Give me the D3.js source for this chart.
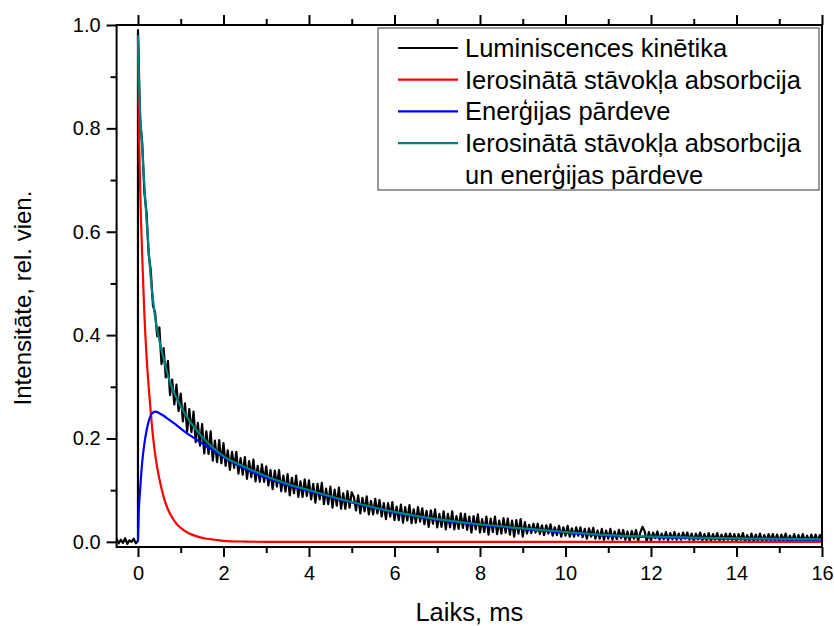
<!DOCTYPE html>
<html>
<head>
<meta charset="utf-8">
<script src="https://cdn.jsdelivr.net/npm/d3@7"></script>
<style>
  body { margin: 0; background: #fff; }
  svg { display: block; }
  text { font-family: "Liberation Sans", Arial, sans-serif; fill: #000; }
</style>
</head>
<body>
<svg id="chart" width="834" height="626"></svg>
<script>
// Luminescence decay: measured signal sampled every 0.05 ms
const sampleStep = 0.05;
const baselineStart = -0.5;
// signal before the excitation pulse (t = -0.5 ... 0 ms)
const baselineValues = [0.006, -0.003, 0.004, -0.002, 0.007, -0.004, 0.003, 0.000, 0.006, -0.003, 0.002];
// signal after the pulse (t = 0 ... 16 ms)
const decayValues = [
  0.990,
  0.818, 0.771, 0.675, 0.637, 0.556, 0.525, 0.457, 0.444, 0.398, 0.415,
  0.344, 0.375, 0.318, 0.350, 0.284, 0.314, 0.266, 0.304, 0.253, 0.287,
  0.233, 0.268, 0.213, 0.257, 0.212, 0.252, 0.193, 0.230, 0.186, 0.228,
  0.171, 0.214, 0.170, 0.214, 0.157, 0.196, 0.154, 0.197, 0.152, 0.191,
  0.147, 0.177, 0.139, 0.174, 0.143, 0.174, 0.132, 0.162, 0.130, 0.164,
  0.122, 0.156, 0.125, 0.159, 0.117, 0.147, 0.116, 0.150, 0.116, 0.146,
  0.109, 0.139, 0.102, 0.138, 0.107, 0.139, 0.098, 0.128, 0.097, 0.131,
  0.090, 0.124, 0.094, 0.128, 0.087, 0.117, 0.087, 0.121, 0.089, 0.119,
  0.082, 0.112, 0.076, 0.112, 0.082, 0.114, 0.073, 0.103, 0.073, 0.107,
  0.066, 0.101, 0.070, 0.105, 0.064, 0.094, 0.064, 0.098, 0.066, 0.096,
  0.087, 0.061, 0.090, 0.055, 0.085, 0.059, 0.088, 0.053, 0.079, 0.053,
  0.083, 0.055, 0.081, 0.049, 0.075, 0.044, 0.075, 0.049, 0.077, 0.042,
  0.068, 0.042, 0.072, 0.037, 0.067, 0.041, 0.071, 0.036, 0.063, 0.037,
  0.067, 0.039, 0.065, 0.034, 0.060, 0.029, 0.061, 0.035, 0.063, 0.028,
  0.054, 0.029, 0.059, 0.024, 0.054, 0.028, 0.059, 0.024, 0.050, 0.025,
  0.055, 0.027, 0.054, 0.023, 0.049, 0.018, 0.050, 0.024, 0.053, 0.018,
  0.044, 0.019, 0.049, 0.014, 0.045, 0.019, 0.049, 0.015, 0.041, 0.016,
  0.046, 0.018, 0.045, 0.014, 0.041, 0.010, 0.042, 0.016, 0.044, 0.010,
  0.038, 0.016, 0.033, 0.017, 0.035, 0.018, 0.035, 0.015, 0.032, 0.013,
  0.032, 0.016, 0.034, 0.012, 0.028, 0.013, 0.031, 0.010, 0.028, 0.012,
  0.031, 0.010, 0.026, 0.010, 0.028, 0.012, 0.028, 0.009, 0.025, 0.006,
  0.026, 0.010, 0.027, 0.006, 0.022, 0.006, 0.025, 0.004, 0.022, 0.006,
  0.025, 0.004, 0.020, 0.005, 0.023, 0.007, 0.023, 0.004, 0.020, 0.002,
  0.021, 0.006, 0.023, 0.002, 0.018, 0.029, 0.021, 0.000, 0.019, 0.003,
  0.018, 0.007, 0.020, 0.004, 0.016, 0.005, 0.019, 0.003, 0.017, 0.005,
  0.019, 0.004, 0.016, 0.004, 0.018, 0.006, 0.018, 0.004, 0.016, 0.002,
  0.016, 0.005, 0.018, 0.003, 0.015, 0.003, 0.017, 0.002, 0.015, 0.004,
  0.017, 0.002, 0.014, 0.003, 0.016, 0.004, 0.016, 0.003, 0.015, 0.001,
  0.015, 0.004, 0.017, 0.001, 0.013, 0.002, 0.016, 0.000, 0.014, 0.003,
  0.016, 0.001, 0.013, 0.002, 0.015, 0.003, 0.015, 0.002, 0.014, 0.000,
  0.014, 0.003, 0.016, 0.000, 0.012, 0.001, 0.015, 0.000, 0.013, 0.002,
  0.015, 0.000, 0.012, 0.001, 0.014, 0.002, 0.014, 0.001, 0.013, 0.004
];

// Model curves
const fitTime = [0, 0.02, 0.05, 0.1, 0.15, 0.2, 0.25, 0.3, 0.35, 0.4,
                 0.5, 0.6, 0.7, 0.8, 0.9, 1.0, 1.2, 1.4, 1.6, 1.8, 2.0,
                 2.5, 3, 3.5, 4, 5, 6, 7, 8, 9, 10, 11, 12, 13, 14, 15, 16];
const fitAbsorption = [0.98, 0.82, 0.69, 0.55, 0.44, 0.36, 0.30, 0.25, 0.205, 0.17,
                       0.122, 0.087, 0.063, 0.047, 0.035, 0.027, 0.016, 0.010, 0.006, 0.004, 0.002,
                       0.0005, 0, 0, 0, 0, 0, 0, 0, 0, 0, 0, 0, 0, 0, 0, 0];
const fitTransfer = [0, 0.06, 0.10, 0.155, 0.19, 0.215, 0.233, 0.245, 0.25, 0.252,
                     0.249, 0.244, 0.238, 0.232, 0.226, 0.219, 0.207, 0.196, 0.185, 0.175, 0.164,
                     0.142, 0.124, 0.110, 0.098, 0.076, 0.057, 0.043, 0.033, 0.025, 0.018, 0.012, 0.009, 0.007, 0.0058, 0.0048, 0.004];
const fitCombined = [0.98, 0.90, 0.83, 0.76, 0.69, 0.625, 0.565, 0.51, 0.47, 0.435,
                     0.39, 0.355, 0.322, 0.297, 0.279, 0.262, 0.235, 0.213, 0.194, 0.179, 0.166,
                     0.145, 0.127, 0.112, 0.100, 0.077, 0.058, 0.044, 0.034, 0.026, 0.019, 0.013, 0.010, 0.008, 0.0068, 0.0058, 0.005];

const xTicks = [0, 2, 4, 6, 8, 10, 12, 14, 16];
const xMinorTicks = [1, 3, 5, 7, 9, 11, 13, 15];
const yTicks = [0, 0.2, 0.4, 0.6, 0.8, 1.0];
const yMinorTicks = [0.1, 0.3, 0.5, 0.7, 0.9];

const legendLabels = [
  ["Luminiscences kinētika"],
  ["Ierosinātā stāvokļa absorbcija"],
  ["Enerģijas pārdeve"],
  ["Ierosinātā stāvokļa absorbcija", "un enerģijas pārdeve"]
];
const seriesColors = ["#000000", "#ff0000", "#0000ff", "#008080"];
const xTitle = "Laiks, ms";
const yTitle = "Intensitāte, rel. vien.";

// ---- layout ----
const plot = { left: 116.6, right: 822, top: 25, bottom: 547 };
const svg = d3.select("#chart");

const x = d3.scaleLinear().domain([-0.5, 16]).range([plot.left, plot.right]);
const y = d3.scaleLinear().domain([-0.01, 1.0]).range([plot.bottom, plot.top]);

svg.append("defs").append("clipPath").attr("id", "plotClip")
  .append("rect")
  .attr("x", plot.left).attr("y", plot.top)
  .attr("width", plot.right - plot.left).attr("height", plot.bottom - plot.top);

// measured points
const measured = baselineValues.map((v, i) => [baselineStart + i * sampleStep, v])
  .concat(decayValues.map((v, i) => [i * sampleStep, v]));

const rawLine = d3.line().x(d => x(d[0])).y(d => y(d[1]));
const fitLine = d3.line().x(d => x(d[0])).y(d => y(d[1])).curve(d3.curveMonotoneX);

const curves = svg.append("g").attr("clip-path", "url(#plotClip)");

curves.append("path")
  .datum(measured)
  .attr("d", rawLine)
  .attr("fill", "none")
  .attr("stroke", seriesColors[0])
  .attr("stroke-width", 2.2)
  .attr("stroke-linejoin", "round");

[fitAbsorption, fitTransfer, fitCombined].forEach((vals, k) => {
  curves.append("path")
    .datum(fitTime.map((t, i) => [t, vals[i]]))
    .attr("d", fitLine)
    .attr("fill", "none")
    .attr("stroke", seriesColors[k + 1])
    .attr("stroke-width", 2.2);
});

// ---- axes ----
function styleAxis(g) {
  g.select(".domain").remove();
  g.selectAll(".tick line").attr("stroke", "#000").attr("stroke-width", 2);
  g.selectAll(".tick text").style("font-size", "20px").attr("fill", "#000");
}

svg.append("g").attr("transform", `translate(0,${plot.bottom})`)
  .call(d3.axisBottom(x).tickValues(xTicks).tickSize(10).tickSizeOuter(0)
        .tickPadding(9).tickFormat(d3.format("d")))
  .call(styleAxis);
svg.append("g").attr("transform", `translate(0,${plot.bottom})`)
  .call(d3.axisBottom(x).tickValues(xMinorTicks).tickSize(6).tickSizeOuter(0).tickFormat(""))
  .call(styleAxis);

svg.append("g").attr("transform", `translate(0,${plot.top})`)
  .call(d3.axisTop(x).tickValues(xTicks).tickSize(10).tickSizeOuter(0).tickFormat(""))
  .call(styleAxis);
svg.append("g").attr("transform", `translate(0,${plot.top})`)
  .call(d3.axisTop(x).tickValues(xMinorTicks).tickSize(6).tickSizeOuter(0).tickFormat(""))
  .call(styleAxis);

svg.append("g").attr("transform", `translate(${plot.left},0)`)
  .call(d3.axisLeft(y).tickValues(yTicks).tickSize(10).tickSizeOuter(0)
        .tickPadding(6).tickFormat(d3.format(".1f")))
  .call(styleAxis);
svg.append("g").attr("transform", `translate(${plot.left},0)`)
  .call(d3.axisLeft(y).tickValues(yMinorTicks).tickSize(6).tickSizeOuter(0).tickFormat(""))
  .call(styleAxis);

// frame
svg.append("rect")
  .attr("x", plot.left).attr("y", plot.top)
  .attr("width", plot.right - plot.left).attr("height", plot.bottom - plot.top)
  .attr("fill", "none").attr("stroke", "#000").attr("stroke-width", 2);

// axis titles
svg.append("text")
  .attr("x", (plot.left + plot.right) / 2).attr("y", 621)
  .attr("text-anchor", "middle")
  .style("font-size", "25.5px")
  .text(xTitle);

svg.append("text")
  .attr("transform", "translate(31,298) rotate(-90)")
  .attr("text-anchor", "middle")
  .style("font-size", "24px")
  .text(yTitle);

// ---- legend ----
const legend = svg.append("g");
legend.append("rect")
  .attr("x", 378).attr("y", 28).attr("width", 441).attr("height", 162)
  .attr("fill", "#fff").attr("stroke", "#333").attr("stroke-width", 1);

const rowGap = 31.7;
let row = 0;
legendLabels.forEach((lines, k) => {
  const cy = 48 + row * rowGap;
  legend.append("line")
    .attr("x1", 398).attr("x2", 458).attr("y1", cy).attr("y2", cy)
    .attr("stroke", seriesColors[k]).attr("stroke-width", 2.2);
  lines.forEach((s, j) => {
    legend.append("text")
      .attr("x", 465).attr("y", cy + j * rowGap)
      .attr("dy", "0.35em")
      .style("font-size", "25.5px")
      .text(s);
  });
  row += lines.length;
});
</script>
</body>
</html>
